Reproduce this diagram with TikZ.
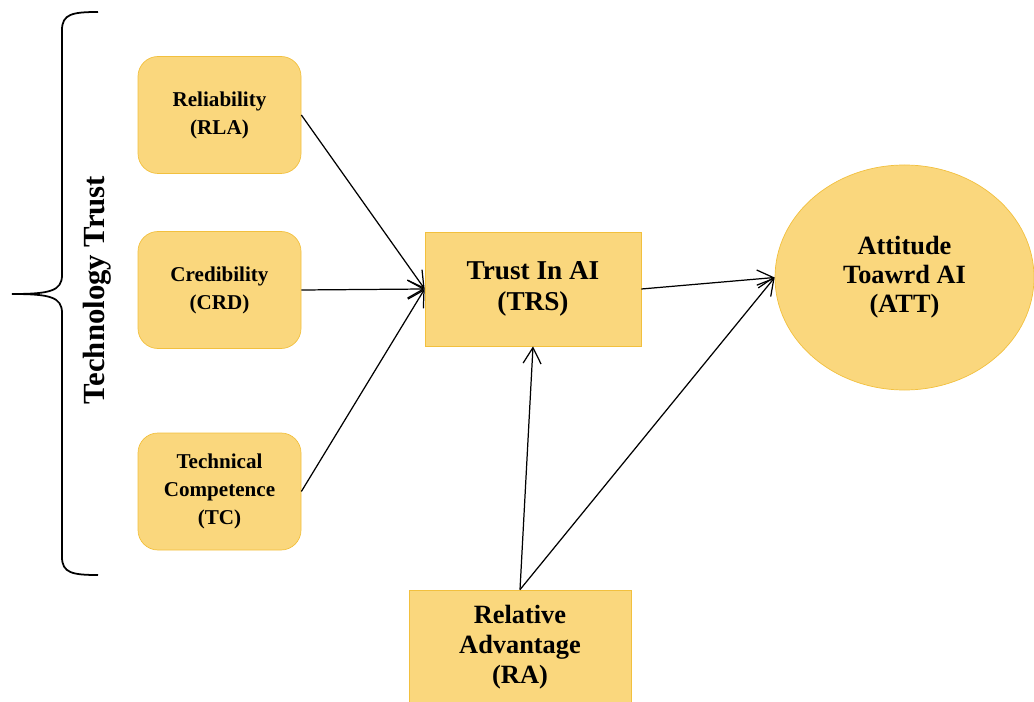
\documentclass[tikz,border=0pt]{standalone}
\usepackage{fontspec}
\setmainfont{Liberation Serif}
\usepackage{tikz}
\usetikzlibrary{shapes.geometric, arrows.meta}
\definecolor{boxfill}{RGB}{250,215,125}
\definecolor{boxline}{RGB}{242,192,62}
\tikzstyle{factor} = [rectangle, rounded corners=0.4cm, minimum width=3.26cm, minimum height=2.34cm, align=center, draw=boxline, fill=boxfill, font=\bfseries\fontsize{12}{16}\selectfont]
\tikzstyle{construct} = [rectangle, align=center, draw=boxline, fill=boxfill, font=\bfseries\fontsize{15.5}{18}\selectfont]
\tikzstyle{outcome} = [ellipse, minimum width=5.18cm, minimum height=4.5cm, align=center, draw=boxline, fill=boxfill, font=\bfseries\fontsize{15}{16.5}\selectfont]
\tikzstyle{arrow} = [line width=0.7pt, ->, >={Straight Barb[length=3.2mm, width=3.6mm]}]
\begin{document}
\begin{tikzpicture}[node distance=3.5cm]
            \useasboundingbox (0,0) rectangle (20.68,-14.04);
            \node (rla) [factor] at (4.39,-2.30) {Reliability\\(RLA)};
            \node (crd) [factor, below of=rla] {Credibility\\(CRD)};
            \node (tc) [factor, below of=crd, yshift=-0.53cm] {Technical\\Competence\\(TC)};
            \node (trs) [construct, minimum width=4.32cm, minimum height=2.28cm] at (10.66,-5.78) {Trust In AI\\(TRS)};
            \node (att) [outcome] at (18.09,-5.55) {Attitude\\Toawrd AI\\(ATT)};
            \node (ra) [construct, minimum width=4.44cm, minimum height=2.3cm, font=\bfseries\fontsize{15}{17}\selectfont] at (10.40,-12.95) {Relative\\Advantage\\(RA)};
            \draw [arrow] (rla.east) -- (trs.west);
            \draw [arrow] (crd.east) -- (trs.west);
            \draw [arrow] (tc.east) -- (trs.west);
            \draw [arrow] (trs.east) -- (att.west);
            \draw [arrow] (ra.north) -- (trs.south);
            \draw [arrow] (ra.north) -- (att.west);
            % brace for the trust group
            \draw [line width=1pt] (1.96,-0.24) .. controls (1.45,-0.24) and (1.24,-0.28) .. (1.24,-0.6) -- (1.24,-5.5) .. controls (1.24,-5.82) and (1.0,-5.88) .. (0.24,-5.88) .. controls (1.0,-5.88) and (1.24,-5.94) .. (1.24,-6.26) -- (1.24,-11.14) .. controls (1.24,-11.46) and (1.45,-11.5) .. (1.96,-11.5);
            \node (tt) [rotate=90, font=\bfseries\fontsize{17.5}{20}\selectfont] at (1.94,-5.8) {Technology Trust};
        \end{tikzpicture}
\end{document}
